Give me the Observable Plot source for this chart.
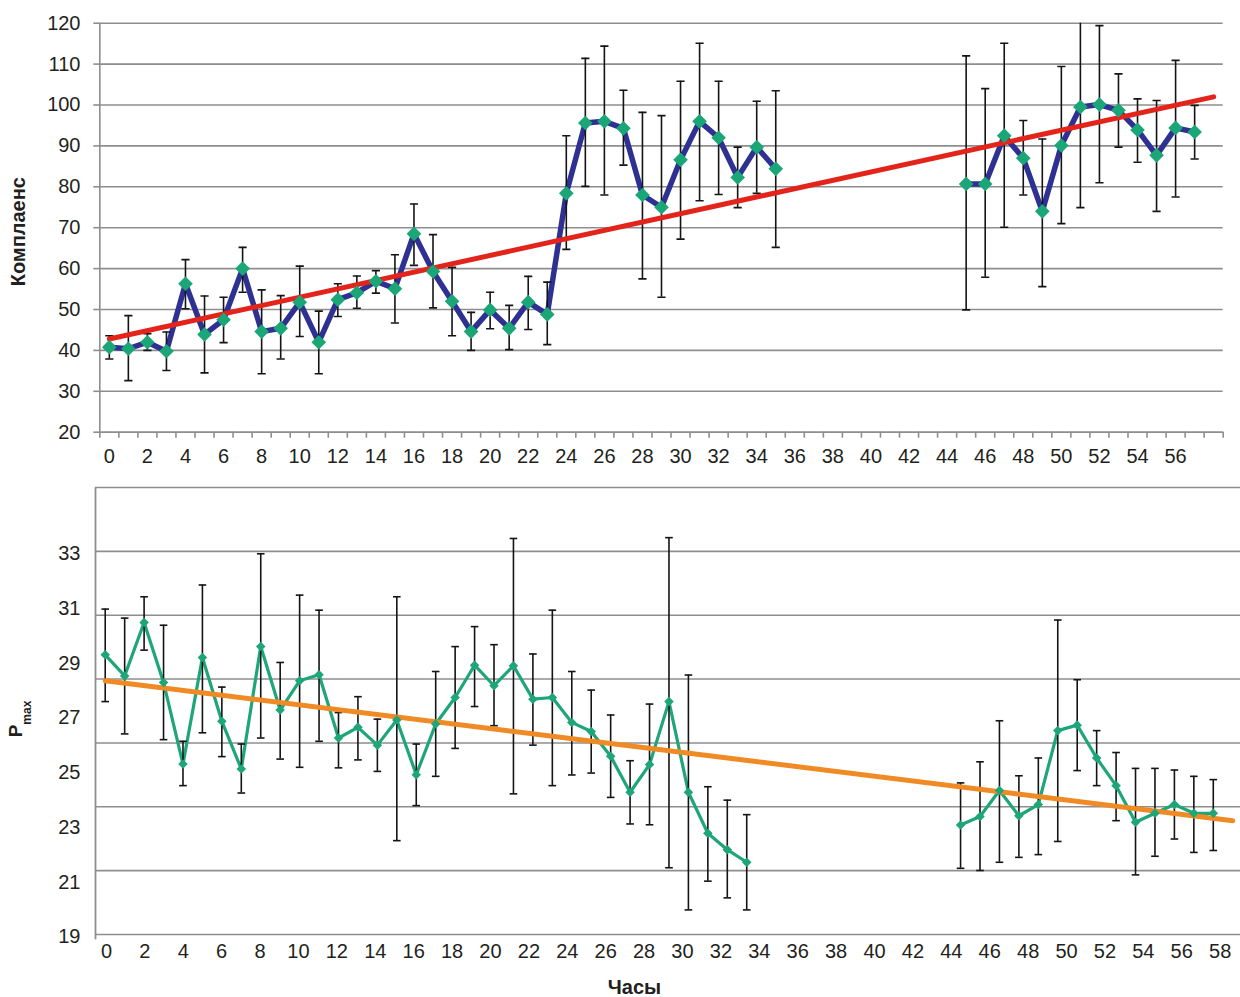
<!DOCTYPE html>
<html>
<head>
<meta charset="utf-8">
<script src="https://cdn.jsdelivr.net/npm/d3@7"></script>
<script src="https://cdn.jsdelivr.net/npm/@observablehq/plot@0.6"></script>
<style>
  body { margin: 0; background: #fff; }
  #chart { position: relative; width: 1240px; height: 997px; overflow: hidden; }
  #chart svg { position: absolute; left: 0; }
</style>
</head>
<body>
<div id="chart"></div>
<script>
// ---------- Top panel: Комплаенс ----------
const hoursTop = [0,1,2,3,4,5,6,7,8,9,10,11,12,13,14,15,16,17,18,19,20,21,22,23,24,25,26,27,28,29,30,31,32,33,34,35,
                  45,46,47,48,49,50,51,52,53,54,55,56,57];
const compliance = [40.8,40.4,42.0,39.8,56.3,43.9,47.5,60.0,44.6,45.4,51.8,42.0,52.4,54.1,56.9,55.1,68.5,59.3,52.0,44.6,
                    49.9,45.4,51.8,48.8,78.4,95.6,96.0,94.3,78.0,75.0,86.6,96.0,92.0,82.3,89.7,84.4,
                    80.7,80.7,92.5,87.0,74.0,90.1,99.5,100.1,98.7,93.9,87.7,94.4,93.4];
const complianceLow = [37.9,32.6,40.0,35.1,50.2,34.5,41.9,54.2,34.3,37.9,43.4,34.3,48.3,50.3,54.0,46.7,60.8,50.4,43.6,40.0,
                       45.3,40.2,45.1,41.4,64.7,80.1,78.0,85.3,57.5,53.0,67.2,76.6,78.1,74.9,78.4,65.2,
                       49.9,57.9,70.1,78.0,55.6,71.0,74.9,81.0,89.7,86.0,74.0,77.5,86.8];
const complianceHigh = [43.6,48.5,44.1,44.5,62.2,53.3,53.0,65.2,54.8,53.4,60.6,49.6,56.3,58.2,59.5,63.4,75.8,68.3,60.3,49.3,
                        54.2,51.0,58.1,56.7,92.5,111.4,114.4,103.6,98.2,97.4,105.8,115.1,105.8,89.7,100.9,103.5,
                        112.0,104.0,115.1,96.2,91.7,109.4,122.0,119.4,107.6,101.5,101.1,110.9,99.9];
const trendTopHours = [0, 58];
const trendTopValues = [42.8, 102.0];
const topYTicks = [20,30,40,50,60,70,80,90,100,110,120];
const topXLabels = [0,2,4,6,8,10,12,14,16,18,20,22,24,26,28,30,32,34,36,38,40,42,44,46,48,50,52,54,56];
const topHourRange = [0, 58];

// ---------- Bottom panel: Pmax ----------
const hoursBottom = [0,1,2,3,4,5,6,7,8,9,10,11,12,13,14,15,16,17,18,19,20,21,22,23,24,25,26,27,28,29,30,31,32,33,
                     44,45,46,47,48,49,50,51,52,53,54,55,56,57];
const pmax = [29.31,28.54,30.49,28.30,25.32,29.21,26.88,25.14,29.61,27.29,28.36,28.58,26.27,26.66,26.01,26.93,24.93,26.78,
              27.75,28.93,28.18,28.91,27.69,27.75,26.84,26.51,25.60,24.29,25.30,27.60,24.29,22.79,22.19,21.73,
              23.09,23.40,24.35,23.43,23.84,26.54,26.74,25.54,24.53,23.19,23.52,23.84,23.52,23.52];
const pmaxLow = [27.60,26.42,29.48,26.21,24.53,26.46,25.59,24.26,26.27,25.50,25.20,26.15,25.18,25.47,25.05,22.52,23.80,24.87,
                 25.89,27.42,26.72,24.23,26.01,24.53,24.92,24.99,24.10,23.13,23.10,21.53,19.99,21.04,20.43,19.99,
                 21.51,21.43,21.73,21.91,22.01,22.49,25.08,24.53,23.25,21.27,21.95,22.58,22.09,22.16];
const pmaxHigh = [30.98,30.65,31.43,30.39,26.15,31.86,28.13,26.05,33.00,29.03,31.49,30.94,27.20,27.78,26.96,31.43,26.05,28.70,
                  29.61,30.34,29.68,33.56,29.34,30.94,28.70,28.02,27.11,25.44,27.51,33.59,28.57,24.49,24.00,23.47,
                  24.63,25.40,26.90,24.89,25.54,30.58,28.40,26.54,25.74,25.16,25.16,25.10,24.87,24.75];
const trendBottomHours = [0, 58];
const trendBottomValues = [28.36, 23.25];
const bottomYLabels = [19,21,23,25,27,29,31,33];
const bottomGridValues = [19,21,23,25,27,29,31,33]; // the reference grid is spread over the whole frame
const bottomXLabels = [0,2,4,6,8,10,12,14,16,18,20,22,24,26,28,30,32,34,36,38,40,42,44,46,48,50,52,54,56,58];

// ---------- tables ----------
const topData = hoursTop.map((h, i) => ({hour: h, value: compliance[i], low: complianceLow[i], high: complianceHigh[i], seg: h < 40 ? "a" : "b"}));
const topTrend = trendTopHours.map((h, i) => ({hour: h, value: trendTopValues[i]}));
const botData = hoursBottom.map((h, i) => ({hour: h, value: pmax[i], low: pmaxLow[i], high: pmaxHigh[i], seg: h < 40 ? "a" : "b"}));
const botTrend = trendBottomHours.map((h, i) => ({hour: h, value: trendBottomValues[i]}));
const topBoundaries = d3.range(topHourRange[0] - 0.5, topHourRange[1] + 1, 1);

const capSymbol = {draw(ctx, size) { const w = Math.sqrt(size); ctx.moveTo(-w / 2, 0); ctx.lineTo(w / 2, 0); }};

const FONT = "'Liberation Sans', Arial, Helvetica, sans-serif";
const GRID = "#8e8e8e";
const INK = "#141414";
const baseStyle = {fontFamily: FONT, fontSize: "20px", color: "#231f20", background: "transparent", overflow: "visible"};

const W = 1240;
const chart = document.getElementById("chart");

// ---------- top plot ----------
const topPlot = Plot.plot({
  width: W, height: 475,
  marginLeft: 99.3, marginRight: 17.3, marginTop: 22.7, marginBottom: 43.3,
  style: baseStyle,
  x: {domain: [-0.5, 58.5], axis: null},
  y: {domain: [20, 120], axis: null},
  marks: [
    Plot.gridY(topYTicks, {stroke: GRID, strokeOpacity: 1, strokeWidth: 1.6}),
    Plot.axisY(topYTicks, {tickSize: 6, tickPadding: 13.3, stroke: GRID, strokeWidth: 1.6, label: null, fill: "#231f20"}),
    Plot.ruleX([-0.5], {stroke: GRID, strokeWidth: 1.6}),
    Plot.ruleY([20], {stroke: GRID, strokeWidth: 1.6}),
    Plot.axisX(topBoundaries, {tickSize: 6, tickFormat: () => "", stroke: GRID, strokeWidth: 1.6, label: null}),
    Plot.axisX(topXLabels, {tickSize: 0, tickPadding: 17, label: null, fill: "#231f20"}),
    Plot.line(topData, {x: "hour", y: "value", z: "seg", stroke: "#2e3192", strokeWidth: 5.5}),
    Plot.ruleX(topData, {x: "hour", y1: "low", y2: "high", stroke: INK, strokeWidth: 1.6, clip: true}),
    Plot.dot(topData, {x: "hour", y: "low", symbol: capSymbol, r: 4.6, stroke: INK, strokeWidth: 1.6, fill: "none", clip: true}),
    Plot.dot(topData, {x: "hour", y: "high", symbol: capSymbol, r: 4.6, stroke: INK, strokeWidth: 1.6, fill: "none", clip: true}),
    Plot.line(topTrend, {x: "hour", y: "value", stroke: "#e3241b", strokeWidth: 5}),
    Plot.dot(topData, {x: "hour", y: "value", symbol: "diamond2", r: 6.6, fill: "#1aa676", stroke: "none"}),
    Plot.text(["Комплаенс"], {text: d => d, frameAnchor: "left", textAnchor: "middle", lineAnchor: "middle",
      dx: -81.7, dy: 4, rotate: -90, fontWeight: "bold", fontSize: 20, fill: "#231f20"})
  ]
});
topPlot.style.top = "0px";
chart.appendChild(topPlot);

// ---------- bottom plot: grid and x labels (the reference's labels are spaced a little tighter than its points) ----------
const botBack = Plot.plot({
  width: W, height: 522,
  marginLeft: 95, marginRight: 0, marginTop: 12, marginBottom: 63,
  style: baseStyle,
  x: {domain: [-0.57, 59.06], axis: null},
  y: {domain: [19, 33], axis: null},
  marks: [
    Plot.gridY(bottomGridValues, {stroke: GRID, strokeOpacity: 1, strokeWidth: 1.6}),
    Plot.axisX(bottomXLabels, {tickSize: 0, tickPadding: 9, label: null, fill: "#231f20"}),
    Plot.text(["Часы"], {text: d => d, frameAnchor: "bottom", textAnchor: "middle", lineAnchor: "middle",
      dx: -33.5, dy: 53.5, fontWeight: "bold", fontSize: 20, fill: "#231f20"}),
    Plot.text(["P"], {text: d => d, frameAnchor: "left", textAnchor: "middle", lineAnchor: "middle",
      dx: -79.3, dy: 8, rotate: -90, fontWeight: "bold", fontSize: 19, fill: "#231f20"})
  ]
});
botBack.style.top = "475px";
d3.select(botBack).selectAll("text").filter(function() { return this.textContent === "P"; })
  .append("tspan").attr("font-size", 12).attr("font-weight", "bold").attr("dy", 9).text("max");
chart.appendChild(botBack);

// ---------- bottom plot: frame edge, data and y labels ----------
const botFront = Plot.plot({
  width: W, height: 522,
  marginLeft: 95, marginRight: 0, marginTop: 78.3, marginBottom: 60.5,
  style: baseStyle,
  x: {domain: [-0.5, 58.4], axis: null},
  y: {domain: [19, 33], axis: null},
  marks: [
    Plot.ruleX([-0.5], {y1: 18.9, y2: 35.4, stroke: GRID, strokeWidth: 1.8}),
    Plot.axisY(bottomYLabels, {tickSize: 0, tickPadding: 15, label: null, fill: "#231f20"}),
    Plot.line(botData, {x: "hour", y: "value", z: "seg", stroke: "#1ea679", strokeWidth: 3.2}),
    Plot.ruleX(botData, {x: "hour", y1: "low", y2: "high", stroke: INK, strokeWidth: 1.6}),
    Plot.dot(botData, {x: "hour", y: "low", symbol: capSymbol, r: 4.3, stroke: INK, strokeWidth: 1.6, fill: "none"}),
    Plot.dot(botData, {x: "hour", y: "high", symbol: capSymbol, r: 4.3, stroke: INK, strokeWidth: 1.6, fill: "none"}),
    Plot.line(botTrend, {x: "hour", y: "value", stroke: "#f08a24", strokeWidth: 5}),
    Plot.dot(botData, {x: "hour", y: "value", symbol: "diamond2", r: 4.3, fill: "#1ea679", stroke: "none"})
  ]
});
botFront.style.top = "475px";
chart.appendChild(botFront);
</script>
</body>
</html>
